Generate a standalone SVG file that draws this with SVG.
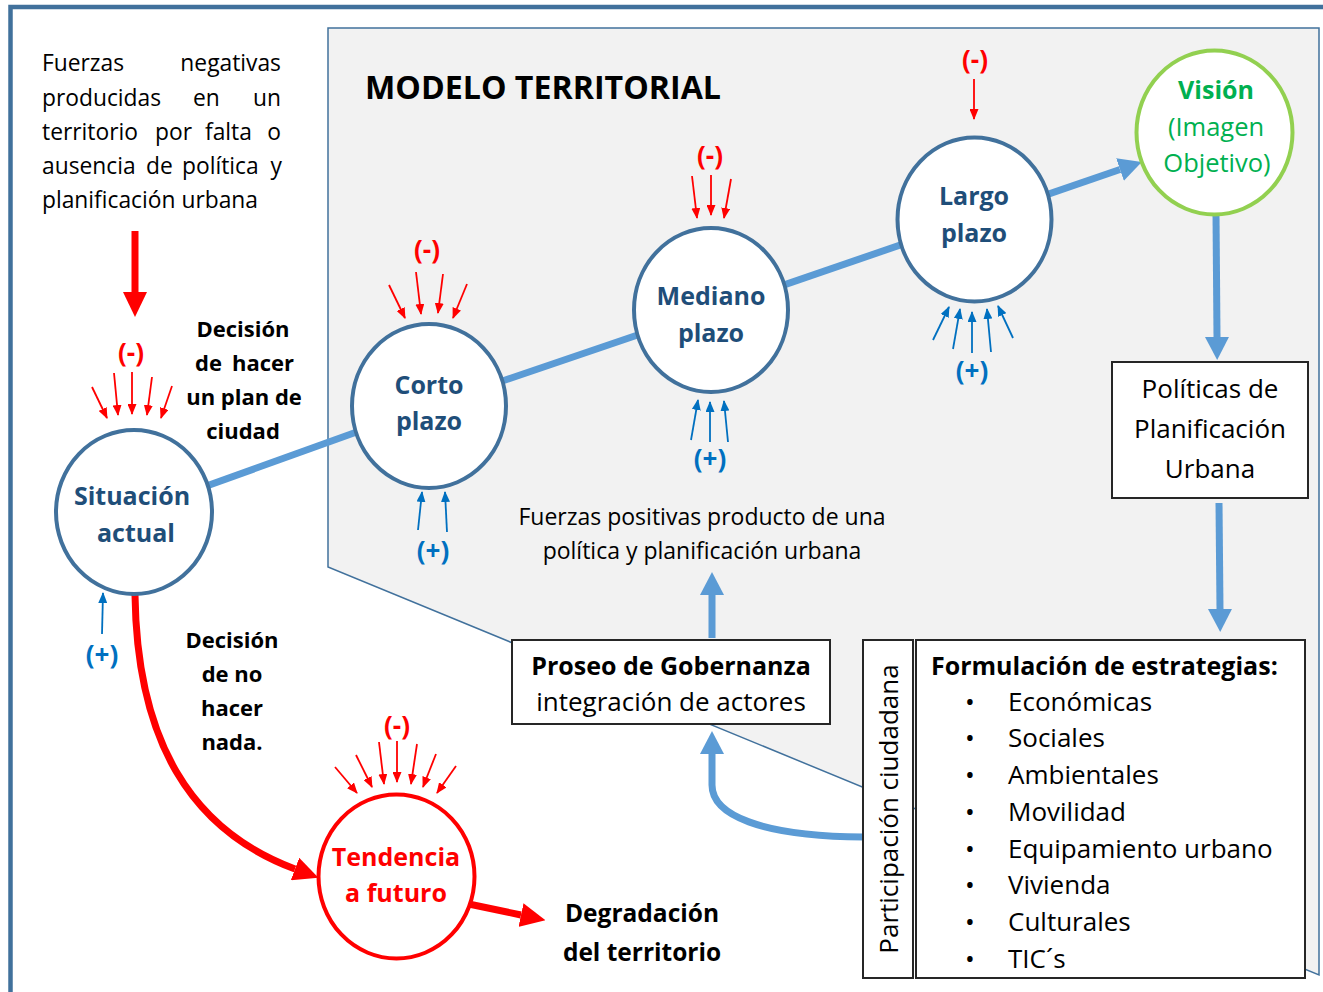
<svg xmlns="http://www.w3.org/2000/svg" width="1323" height="992" viewBox="0 0 1323 992">
<style>
text{font-family:"Open Sans","Liberation Sans",sans-serif;}
.nc{fill:#fff;stroke:#41719C;stroke-width:4}
.nt{font-weight:bold;font-size:25px;fill:#1F4E79;text-anchor:middle}
.conn{stroke:#5B9BD5;stroke-width:7;fill:none}
.rt{stroke:#FF0000;stroke-width:7;fill:none}
.sr{stroke:#FF0000;stroke-width:1.8;fill:none}
.sb{stroke:#0070C0;stroke-width:1.8;fill:none}
.mi{fill:#FF0000;font-weight:bold;font-size:26px;text-anchor:middle}
.pl{fill:#0070C0;font-weight:bold;font-size:26px;text-anchor:middle}
.box{fill:#fff;stroke:#262626;stroke-width:2}
.p{font-size:22.8px;fill:#000}
.b{font-weight:bold;font-size:22px;fill:#000}
.c{text-anchor:middle}
.e{text-anchor:end}
.bx{font-size:26px;fill:#000}
</style>
<defs>
<marker id="mB" markerUnits="userSpaceOnUse" markerWidth="23" markerHeight="24" refX="0" refY="12" orient="auto" viewBox="0 0 23 24"><path d="M0,0 L23,12 L0,24 Z" fill="#5B9BD5"/></marker>
<marker id="mR" markerUnits="userSpaceOnUse" markerWidth="25" markerHeight="24" refX="0" refY="12" orient="auto" viewBox="0 0 25 24"><path d="M0,0 L25,12 L0,24 Z" fill="#FF0000"/></marker>
<marker id="msR" markerUnits="userSpaceOnUse" markerWidth="11" markerHeight="9" refX="10" refY="4.5" orient="auto" viewBox="0 0 11 9"><path d="M0,0 L11,4.5 L0,9 Z" fill="#FF0000"/></marker>
<marker id="msB" markerUnits="userSpaceOnUse" markerWidth="11" markerHeight="9" refX="10" refY="4.5" orient="auto" viewBox="0 0 11 9"><path d="M0,0 L11,4.5 L0,9 Z" fill="#0070C0"/></marker>
</defs>

<rect width="1323" height="992" fill="#fff"/>
<path d="M10.5,992 V7 H1323" fill="none" stroke="#41719C" stroke-width="4.5"/>

<!-- Modelo territorial panel -->
<g id="panel">
<path d="M328,28 H1319 V975 L328,567 Z" fill="#F2F2F2" stroke="#41719C" stroke-width="1.5"/>
<text x="365" y="99" font-size="32" font-weight="bold" fill="#000" textLength="356" lengthAdjust="spacingAndGlyphs">MODELO TERRITORIAL</text>
</g>

<!-- left paragraph -->
<g id="texto-fuerzas-negativas" class="p">
<text x="42" y="71">Fuerzas</text><text class="e" x="281" y="71">negativas</text>
<text x="42" y="106">producidas</text><text x="193" y="106">en</text><text class="e" x="281" y="106">un</text>
<text x="42" y="140">territorio</text><text x="155" y="140">por</text><text x="205" y="140">falta</text><text class="e" x="281" y="140">o</text>
<text x="42" y="174">ausencia</text><text x="146" y="174">de</text><text x="182" y="174">política</text><text class="e" x="282" y="174">y</text>
<text x="42" y="208">planificación urbana</text>
</g>

<!-- connectors -->
<g id="connectors">
<path class="rt" d="M135,231 V292" marker-end="url(#mR)"/>
<path class="conn" d="M134,512 L429,406"/>
<path class="conn" d="M429,406 L711,310"/>
<path class="conn" d="M711,310 L974.5,219.5"/>
<path class="conn" d="M974.5,219.5 L1120,169.5" marker-end="url(#mB)"/>
<path class="conn" d="M1216,214 L1217,337" marker-end="url(#mB)"/>
<path class="conn" d="M1219,503 L1220,609" marker-end="url(#mB)"/>
<path class="conn" d="M712,638 V595" marker-end="url(#mB)"/>
<path class="conn" d="M863,837 C760,836 712,815 712,785 V754" marker-end="url(#mB)"/>
<path class="rt" d="M135,595 C137,740 190,830 295,869" marker-end="url(#mR)"/>
<path class="rt" d="M440,898 L521,915" marker-end="url(#mR)"/>

<!-- small force arrows: Situacion -->
<path class="sr" d="M92,387 L107,418" marker-end="url(#msR)"/>
<path class="sr" d="M114,373 L118,415" marker-end="url(#msR)"/>
<path class="sr" d="M132,372 L132,414" marker-end="url(#msR)"/>
<path class="sr" d="M152,377 L147,415" marker-end="url(#msR)"/>
<path class="sr" d="M172,386 L161,418" marker-end="url(#msR)"/>
<path class="sb" d="M102,634 L103,593" marker-end="url(#msB)"/>
<!-- Corto -->
<path class="sr" d="M389,285 L405,318" marker-end="url(#msR)"/>
<path class="sr" d="M416,272 L421,314" marker-end="url(#msR)"/>
<path class="sr" d="M443,274 L438,313" marker-end="url(#msR)"/>
<path class="sr" d="M467,284 L453,318" marker-end="url(#msR)"/>
<path class="sb" d="M418,530 L422,492" marker-end="url(#msB)"/>
<path class="sb" d="M447,532 L445,492" marker-end="url(#msB)"/>
<!-- Mediano -->
<path class="sr" d="M692,176 L697,218" marker-end="url(#msR)"/>
<path class="sr" d="M711,175 L711,215" marker-end="url(#msR)"/>
<path class="sr" d="M731,179 L724,218" marker-end="url(#msR)"/>
<path class="sb" d="M691,440 L698,400" marker-end="url(#msB)"/>
<path class="sb" d="M710,442 L710,402" marker-end="url(#msB)"/>
<path class="sb" d="M728,442 L724,401" marker-end="url(#msB)"/>
<!-- Largo -->
<path class="sr" d="M974,79 L974,119" marker-end="url(#msR)"/>
<path class="sb" d="M933,340 L949,307" marker-end="url(#msB)"/>
<path class="sb" d="M953,349 L960,309" marker-end="url(#msB)"/>
<path class="sb" d="M972,353 L972,312" marker-end="url(#msB)"/>
<path class="sb" d="M991,352 L987,309" marker-end="url(#msB)"/>
<path class="sb" d="M1013,338 L998,306" marker-end="url(#msB)"/>
<!-- Tendencia -->
<path class="sr" d="M335,767 L357,793" marker-end="url(#msR)"/>
<path class="sr" d="M356,755 L372,787" marker-end="url(#msR)"/>
<path class="sr" d="M379,742 L384,784" marker-end="url(#msR)"/>
<path class="sr" d="M397,741 L397,782" marker-end="url(#msR)"/>
<path class="sr" d="M417,744 L411,784" marker-end="url(#msR)"/>
<path class="sr" d="M436,754 L423,787" marker-end="url(#msR)"/>
<path class="sr" d="M456,766 L437,793" marker-end="url(#msR)"/>
</g>

<!-- force labels -->
<g id="labels-fuerzas">
<text class="mi" x="131" y="362">(-)</text>
<text class="mi" x="427" y="259">(-)</text>
<text class="mi" x="710" y="165">(-)</text>
<text class="mi" x="975" y="69">(-)</text>
<text class="mi" x="397" y="735">(-)</text>
<text class="pl" x="102" y="664">(+)</text>
<text class="pl" x="433" y="560">(+)</text>
<text class="pl" x="710" y="468">(+)</text>
<text class="pl" x="972" y="380">(+)</text>
</g>

<!-- nodes -->
<g id="situacion-actual">
<ellipse class="nc" cx="134" cy="512" rx="78" ry="82"/>
<text class="nt" x="132" y="505">Situación</text>
<text class="nt" x="136" y="542">actual</text>
</g>
<g id="corto-plazo">
<ellipse class="nc" cx="429" cy="406" rx="77" ry="82"/>
<text class="nt" x="429" y="394">Corto</text>
<text class="nt" x="429" y="430">plazo</text>
</g>
<g id="mediano-plazo">
<ellipse class="nc" cx="711" cy="310" rx="77" ry="82"/>
<text class="nt" x="711" y="305">Mediano</text>
<text class="nt" x="711" y="342">plazo</text>
</g>
<g id="largo-plazo">
<ellipse class="nc" cx="974.5" cy="219.5" rx="77" ry="82"/>
<text class="nt" x="974" y="205">Largo</text>
<text class="nt" x="974" y="242">plazo</text>
</g>
<g id="vision">
<ellipse cx="1214.5" cy="132.5" rx="78" ry="82" fill="#fff" stroke="#92D050" stroke-width="4"/>
<text x="1216" y="99" font-size="25" font-weight="bold" fill="#00B050" text-anchor="middle">Visión</text>
<text x="1216" y="136" font-size="25.5" fill="#00B050" text-anchor="middle">(Imagen</text>
<text x="1217" y="172" font-size="25.5" fill="#00B050" text-anchor="middle">Objetivo)</text>
</g>
<g id="tendencia-futuro">
<ellipse cx="396.5" cy="876.5" rx="78" ry="82" fill="#fff" stroke="#FF0000" stroke-width="4"/>
<text x="396" y="866" font-size="25" font-weight="bold" fill="#FF0000" text-anchor="middle">Tendencia</text>
<text x="396" y="902" font-size="25" font-weight="bold" fill="#FF0000" text-anchor="middle">a futuro</text>
</g>

<g id="decision-hacer-plan" class="b">
<text class="c" x="243" y="337">Decisión</text>
<text x="195" y="371">de</text><text class="e" x="294" y="371">hacer</text>
<text class="c" x="244" y="405">un plan de</text>
<text class="c" x="243" y="439">ciudad</text>
</g>
<g id="decision-no-hacer" class="b">
<text class="c" x="232" y="648">Decisión</text>
<text class="c" x="232" y="682">de no</text>
<text class="c" x="232" y="716">hacer</text>
<text class="c" x="232" y="750">nada.</text>
</g>
<g id="degradacion">
<text x="642" y="922" font-size="24.5" font-weight="bold" fill="#000" text-anchor="middle">Degradación</text>
<text x="642" y="961" font-size="24.5" font-weight="bold" fill="#000" text-anchor="middle">del territorio</text>
</g>
<g id="fuerzas-positivas">
<text x="702" y="525" font-size="23" fill="#000" text-anchor="middle">Fuerzas positivas producto de una</text>
<text x="702" y="559" font-size="23" fill="#000" text-anchor="middle">política y planificación urbana</text>
</g>

<g id="politicas">
<rect class="box" x="1112" y="362" width="196" height="136"/>
<text class="bx c" x="1210" y="398">Políticas de</text>
<text class="bx c" x="1210" y="438">Planificación</text>
<text class="bx c" x="1210" y="478">Urbana</text>
</g>

<g id="proseo-gobernanza">
<rect class="box" x="512" y="640" width="318" height="84"/>
<text class="c" x="671" y="675" font-size="25" font-weight="bold" fill="#000">Proseo de Gobernanza</text>
<text class="bx c" x="671" y="711">integración de actores</text>
</g>

<g id="participacion">
<rect class="box" x="863" y="640" width="50" height="338"/>
<text class="bx c" transform="translate(898,809) rotate(-90)">Participación ciudadana</text>
</g>

<g id="formulacion">
<rect class="box" x="916" y="640" width="389" height="338"/>
<text x="931" y="675" font-size="25" font-weight="bold" fill="#000">Formulación de estrategias:</text>
<g class="bx">
<text class="c" x="970" y="711">•</text><text x="1008" y="711">Económicas</text>
<text class="c" x="970" y="747">•</text><text x="1008" y="747">Sociales</text>
<text class="c" x="970" y="784">•</text><text x="1008" y="784">Ambientales</text>
<text class="c" x="970" y="821">•</text><text x="1008" y="821">Movilidad</text>
<text class="c" x="970" y="858">•</text><text x="1008" y="858">Equipamiento urbano</text>
<text class="c" x="970" y="894">•</text><text x="1008" y="894">Vivienda</text>
<text class="c" x="970" y="931">•</text><text x="1008" y="931">Culturales</text>
<text class="c" x="970" y="968">•</text><text x="1008" y="968">TIC´s</text>
</g>
</g>
</svg>
